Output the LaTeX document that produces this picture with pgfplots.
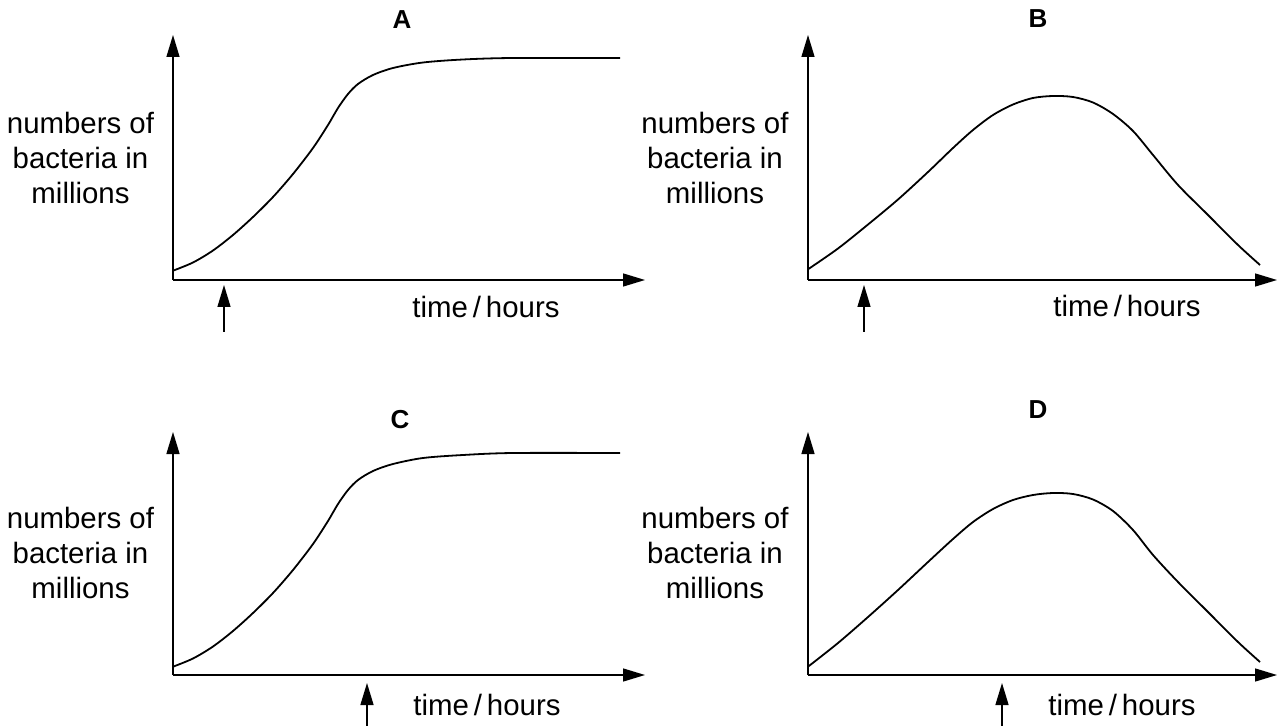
\documentclass[border=0pt]{standalone}
\usepackage{fontspec}
\setmainfont{Liberation Sans}
\usepackage{pgfplots}
\pgfplotsset{compat=1.18}
\usepackage{pgfplotstable}
\usetikzlibrary{arrows.meta}

\pgfplotstableread{
x y
0 0.93
2 1.75
4 2.95
6 4.5
8 6.3
10 8.3
12 10.6
14 13.2
15.5 15.5
16.5 17.2
17.5 18.6
18.5 19.6
20 20.5
22 21.2
25 21.75
29 22.05
34 22.2
44.7 22.2
}\dataA

\pgfplotstableread{
x y
0 1.07
3 3.15
6 5.55
9 8.05
12 10.8
14.5 13.2
16.5 15.0
18.5 16.5
20.5 17.55
22.5 18.2
24.5 18.4
26.5 18.3
28.5 17.75
30.5 16.6
32.5 14.9
34.5 12.5
37 9.5
40 6.5
43 3.5
45.2 1.5
}\dataB

\pgfplotstableread{
x y
0 0.83
2 1.65
4 2.85
6 4.4
8 6.2
10 8.2
12 10.5
14 13.1
15.5 15.4
16.5 17.1
17.5 18.5
18.5 19.5
20 20.4
22 21.1
25 21.7
29 22.0
34 22.2
44.7 22.2
}\dataC

\pgfplotstableread{
x y
0 0.83
3 3.2
6 5.8
9 8.5
12 11.3
14.5 13.6
16.5 15.3
18.5 16.6
20.5 17.5
22.5 18.0
24.5 18.2
26.5 18.1
28.5 17.55
30.5 16.4
32.5 14.5
34.5 12.0
37 9.3
40 6.3
43 3.3
45.2 1.3
}\dataD

\pgfplotsset{
  panel/.style={
    x=5pt, y=5pt, xmin=0, ymin=0,
    axis lines=left, enlargelimits=false, ticks=none, clip=false,
    axis line style={-{Triangle[length=11pt,width=6.5pt]}, line width=0.7pt, black},
    anchor=origin,
  },
  curve/.style={black, line width=0.9pt, smooth, no markers},
}
\tikzset{
  ylab/.style={align=center, font=\fontsize{14.7}{17.5}\selectfont},
  xlab/.style={anchor=base, font=\fontsize{14.7}{17.5}\selectfont},
  ttl/.style={font=\bfseries\fontsize{13}{15}\selectfont},
  uparr/.style={-{Triangle[length=11pt,width=6.5pt]}, line width=0.7pt},
}

\begin{document}
\begin{tikzpicture}
\path[use as bounding box] (0,0) rectangle (639pt,-363pt);

% A
\begin{axis}[panel, at={(86.5pt,-140pt)}, xmax=47.2, ymax=24.5]
\addplot[curve] table {\dataA};
\node[ttl] at (axis cs:22.9,26.0) {A};
\node[ylab] at (axis cs:-9.25,12.2) {numbers of\\bacteria in\\millions};
\node[xlab] at (axis cs:31.3,-3.8) {time\,/\,hours};
\draw[uparr] (axis cs:5.1,-5.2) -- (axis cs:5.1,-0.5);
\end{axis}

% B
\begin{axis}[panel, at={(404pt,-140pt)}, xmax=46.9, ymax=24.5]
\addplot[curve] table {\dataB};
\node[ttl] at (axis cs:23.0,26.1) {B};
\node[ylab] at (axis cs:-9.3,12.2) {numbers of\\bacteria in\\millions};
\node[xlab] at (axis cs:31.9,-3.7) {time\,/\,hours};
\draw[uparr] (axis cs:5.6,-5.2) -- (axis cs:5.6,-0.5);
\end{axis}

% C
\begin{axis}[panel, at={(86.5pt,-337.5pt)}, xmax=47.2, ymax=24.3]
\addplot[curve] table {\dataC};
\node[ttl] at (axis cs:22.7,25.5) {C};
\node[ylab] at (axis cs:-9.25,12.2) {numbers of\\bacteria in\\millions};
\node[xlab] at (axis cs:31.4,-4.0) {time\,/\,hours};
\draw[uparr] (axis cs:19.4,-5.1) -- (axis cs:19.4,-0.8);
\end{axis}

% D
\begin{axis}[panel, at={(404pt,-337.5pt)}, xmax=46.9, ymax=24.3]
\addplot[curve] table {\dataD};
\node[ttl] at (axis cs:23.0,26.5) {D};
\node[ylab] at (axis cs:-9.3,12.2) {numbers of\\bacteria in\\millions};
\node[xlab] at (axis cs:31.4,-4.0) {time\,/\,hours};
\draw[uparr] (axis cs:19.4,-5.1) -- (axis cs:19.4,-0.8);
\end{axis}
\end{tikzpicture}
\end{document}
